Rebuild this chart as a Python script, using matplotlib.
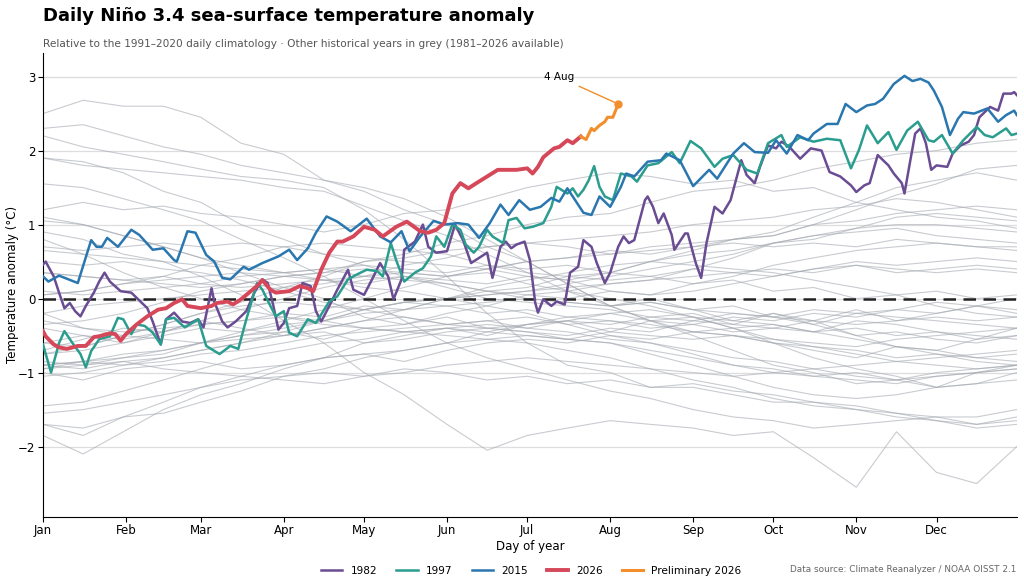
import matplotlib
matplotlib.use("Agg")
import matplotlib.pyplot as plt

# --- highlighted years: (day of year, anomaly in °C) ---
days_1982 = [1, 2, 5, 7, 9, 11, 13, 15, 17, 20, 22, 24, 26, 30, 34, 36, 40, 42, 45, 47, 50, 53, 56, 59, 61, 64,
             65, 68, 70, 73, 77, 80, 83, 85, 87, 89, 91, 93, 96, 98, 101, 103, 105, 108, 111, 115, 117, 121, 124,
             127, 130, 132, 135, 136, 140, 143, 145, 148, 152, 155, 158, 161, 164, 167, 169, 172, 174, 176, 178,
             181, 183, 185, 186, 188, 191, 193, 196, 198, 201, 203, 206, 208, 211, 213, 216, 218, 220, 222, 226,
             227, 229, 231, 233, 236, 237, 241, 242, 245, 247, 249, 252, 255, 258, 262, 264, 267, 269, 272, 275,
             277, 280, 284, 288, 292, 295, 299, 303, 305, 308, 310, 313, 317, 319, 322, 323, 325, 327, 329, 331,
             333, 335, 339, 341, 344, 347, 349, 351, 355, 358, 360, 363, 364, 365]
vals_1982 = [0.46, 0.50, 0.30, 0.08, -0.13, -0.06, -0.17, -0.24, -0.10, 0.08, 0.23, 0.35, 0.23, 0.10, 0.08, 0.01,
             -0.13, -0.31, -0.62, -0.28, -0.19, -0.31, -0.33, -0.28, -0.39, 0.14, -0.04, -0.31, -0.39, -0.31,
             -0.17, 0.08, 0.26, 0.21, -0.08, -0.42, -0.33, -0.13, -0.10, 0.21, 0.17, -0.17, -0.31, -0.10, 0.12,
             0.39, 0.12, 0.05, 0.26, 0.48, 0.30, -0.01, 0.26, 0.66, 0.77, 1.00, 0.70, 0.62, 0.64, 1.00, 0.79,
             0.48, 0.55, 0.62, 0.28, 0.70, 0.77, 0.68, 0.73, 0.77, 0.52, -0.06, -0.19, -0.01, -0.10, -0.04, -0.08,
             0.35, 0.43, 0.79, 0.70, 0.48, 0.21, 0.35, 0.70, 0.84, 0.75, 0.79, 1.33, 1.38, 1.24, 1.02, 1.15,
             0.86, 0.66, 0.88, 0.88, 0.48, 0.28, 0.75, 1.24, 1.15, 1.33, 1.87, 1.67, 1.56, 1.78, 2.07, 2.03,
             2.12, 2.05, 1.89, 2.03, 2.00, 1.71, 1.65, 1.53, 1.44, 1.53, 1.56, 1.94, 1.80, 1.69, 1.56, 1.42,
             1.83, 2.23, 2.30, 2.10, 1.74, 1.80, 1.78, 1.96, 2.07, 2.12, 2.21, 2.45, 2.59, 2.54, 2.77, 2.77,
             2.79, 2.75]

days_1997 = [1, 4, 7, 9, 12, 15, 17, 19, 22, 26, 29, 31, 34, 36, 39, 42, 45, 47, 50, 54, 59, 62, 67, 71, 74, 77,
             81, 83, 86, 88, 91, 93, 96, 100, 103, 108, 111, 115, 118, 122, 126, 128, 131, 133, 136, 140, 143,
             146, 148, 151, 154, 157, 159, 162, 164, 167, 169, 173, 175, 178, 181, 184, 188, 191, 193, 197, 199,
             201, 203, 205, 207, 209, 211, 214, 217, 221, 223, 227, 231, 236, 239, 243, 247, 252, 255, 259, 264,
             268, 272, 277, 279, 284, 289, 294, 299, 303, 306, 309, 313, 317, 320, 324, 328, 332, 334, 337, 341,
             345, 350, 353, 356, 361, 363, 365]
vals_1997 = [-0.62, -1.00, -0.60, -0.44, -0.60, -0.75, -0.93, -0.71, -0.55, -0.51, -0.26, -0.28, -0.48, -0.35,
             -0.37, -0.46, -0.62, -0.28, -0.26, -0.39, -0.28, -0.64, -0.75, -0.64, -0.68, -0.28, 0.21, 0.12,
             -0.10, -0.24, -0.17, -0.46, -0.51, -0.28, -0.33, -0.04, 0.03, 0.26, 0.32, 0.39, 0.37, 0.30, 0.75,
             0.52, 0.23, 0.35, 0.41, 0.57, 0.84, 0.70, 1.00, 0.93, 0.73, 0.62, 0.70, 0.93, 0.84, 0.75, 1.06,
             1.09, 0.95, 0.97, 1.02, 1.24, 1.51, 1.42, 1.49, 1.38, 1.47, 1.60, 1.79, 1.51, 1.38, 1.33, 1.69,
             1.65, 1.58, 1.80, 1.83, 1.98, 1.83, 2.13, 2.03, 1.78, 1.89, 1.94, 1.74, 1.69, 2.10, 2.21, 2.05,
             2.18, 2.12, 2.16, 2.14, 1.76, 2.01, 2.34, 2.10, 2.25, 2.01, 2.27, 2.39, 2.14, 2.12, 2.21, 1.96,
             2.14, 2.32, 2.21, 2.18, 2.30, 2.21, 2.23]

days_2015 = [1, 3, 7, 14, 19, 21, 23, 25, 29, 34, 37, 42, 46, 50, 51, 55, 58, 62, 65, 68, 71, 76, 78, 83, 89, 93,
             96, 100, 103, 107, 111, 116, 122, 127, 131, 135, 138, 142, 147, 151, 156, 160, 164, 168, 172, 175,
             179, 183, 187, 191, 194, 197, 199, 203, 206, 209, 213, 217, 219, 222, 227, 232, 234, 239, 244, 250,
             253, 259, 263, 267, 272, 275, 279, 283, 287, 289, 294, 298, 301, 305, 309, 312, 315, 319, 323, 326,
             329, 332, 334, 337, 340, 343, 345, 349, 354, 358, 361, 364, 365]
vals_2015 = [0.30, 0.23, 0.31, 0.21, 0.79, 0.70, 0.70, 0.82, 0.70, 0.93, 0.86, 0.66, 0.68, 0.52, 0.50, 0.91, 0.89,
             0.59, 0.50, 0.28, 0.26, 0.43, 0.39, 0.48, 0.57, 0.66, 0.52, 0.68, 0.89, 1.11, 1.04, 0.91, 1.08,
             0.84, 0.76, 0.91, 0.64, 0.84, 1.05, 1.00, 1.02, 1.00, 0.82, 1.02, 1.27, 1.13, 1.33, 1.20, 1.24,
             1.36, 1.31, 1.49, 1.38, 1.16, 1.13, 1.38, 1.24, 1.51, 1.69, 1.65, 1.85, 1.87, 1.96, 1.87, 1.52,
             1.74, 1.62, 1.96, 2.10, 1.98, 1.97, 2.14, 1.96, 2.21, 2.14, 2.23, 2.36, 2.36, 2.63, 2.52, 2.61,
             2.63, 2.70, 2.90, 3.01, 2.94, 2.97, 2.92, 2.81, 2.59, 2.21, 2.43, 2.52, 2.50, 2.57, 2.39, 2.48,
             2.54, 2.48]

days_2026 = [1, 2, 5, 7, 10, 14, 17, 20, 22, 26, 28, 30, 32, 36, 40, 44, 47, 50, 53, 55, 60, 64, 66, 70, 72, 75,
             78, 81, 83, 86, 88, 93, 97, 100, 102, 105, 108, 111, 113, 117, 121, 125, 128, 133, 137, 142, 145,
             148, 151, 154, 157, 160, 163, 167, 171, 174, 178, 182, 184, 186, 188, 192, 194, 197, 199, 202]
vals_2026 = [-0.44, -0.51, -0.62, -0.66, -0.68, -0.64, -0.64, -0.52, -0.51, -0.47, -0.48, -0.57, -0.48, -0.35,
             -0.24, -0.15, -0.13, -0.06, -0.01, -0.10, -0.13, -0.10, -0.06, -0.04, -0.08, -0.01, 0.08, 0.17,
             0.25, 0.12, 0.08, 0.10, 0.17, 0.14, 0.10, 0.39, 0.62, 0.77, 0.77, 0.84, 0.97, 0.93, 0.84, 0.97,
             1.04, 0.91, 0.89, 0.93, 1.02, 1.42, 1.56, 1.49, 1.56, 1.65, 1.74, 1.74, 1.74, 1.76, 1.69, 1.78,
             1.91, 2.03, 2.05, 2.14, 2.10, 2.19]

days_prelim = [202, 204, 206, 207, 209, 211, 212, 214, 215, 216]
vals_prelim = [2.19, 2.15, 2.30, 2.27, 2.34, 2.39, 2.45, 2.45, 2.54, 2.63]

# --- other historical years in grey, values every half month ---
grey_days = [1, 16, 31, 46, 60, 75, 91, 106, 121, 136, 152, 167, 182, 197, 213, 228, 244, 259, 274, 289, 305,
             320, 335, 350, 365]
grey_years = {
    1981: [-0.2, -0.4, -0.5, -0.55, -0.6, -0.5, -0.45, -0.55, -0.4, -0.35, -0.25, -0.4, -0.45, -0.5, -0.4, -0.45, -0.3, -0.35, -0.2, -0.3, -0.15, -0.3, -0.2, -0.1, -0.2],
    1983: [2.3, 2.35, 2.2, 2.05, 1.95, 1.8, 1.7, 1.6, 1.5, 1.35, 1.1, 0.8, 0.5, 0.2, -0.1, -0.3, -0.5, -0.7, -0.9, -1.0, -1.15, -1.1, -1.2, -1.0, -0.9],
    1984: [-0.7, -0.55, -0.4, -0.45, -0.3, -0.4, -0.5, -0.45, -0.6, -0.5, -0.4, -0.5, -0.35, -0.3, -0.2, -0.3, -0.25, -0.4, -0.6, -0.8, -0.95, -1.05, -1.2, -1.15, -1.0],
    1985: [-1.0, -1.1, -0.95, -0.9, -0.85, -0.95, -0.9, -0.8, -0.75, -0.85, -0.7, -0.6, -0.55, -0.6, -0.5, -0.55, -0.45, -0.4, -0.35, -0.45, -0.3, -0.35, -0.45, -0.5, -0.55],
    1986: [-0.6, -0.5, -0.6, -0.45, -0.35, -0.3, -0.2, -0.25, -0.1, -0.15, 0.0, 0.1, 0.15, 0.3, 0.35, 0.5, 0.65, 0.8, 0.85, 1.0, 1.05, 1.15, 1.2, 1.25, 1.2],
    1987: [1.2, 1.3, 1.2, 1.25, 1.15, 1.1, 1.0, 0.9, 1.0, 1.15, 1.2, 1.35, 1.5, 1.6, 1.7, 1.65, 1.55, 1.6, 1.45, 1.5, 1.3, 1.2, 1.1, 1.05, 0.95],
    1988: [0.9, 0.8, 0.6, 0.5, 0.3, 0.05, -0.3, -0.6, -1.0, -1.3, -1.7, -2.05, -1.85, -1.75, -1.65, -1.7, -1.75, -1.85, -1.8, -2.15, -2.55, -1.8, -2.35, -2.5, -2.0],
    1989: [-1.85, -2.1, -1.8, -1.5, -1.3, -1.15, -0.95, -0.8, -0.6, -0.55, -0.45, -0.4, -0.35, -0.3, -0.45, -0.3, -0.35, -0.25, -0.3, -0.2, -0.25, -0.15, -0.2, -0.1, -0.15],
    1990: [0.05, 0.1, 0.2, 0.25, 0.3, 0.35, 0.3, 0.25, 0.2, 0.3, 0.25, 0.2, 0.3, 0.25, 0.35, 0.3, 0.4, 0.35, 0.3, 0.4, 0.45, 0.35, 0.4, 0.45, 0.4],
    1991: [0.35, 0.3, 0.25, 0.2, 0.15, 0.2, 0.3, 0.35, 0.5, 0.55, 0.65, 0.7, 0.75, 0.7, 0.6, 0.65, 0.7, 0.8, 0.85, 1.0, 1.2, 1.4, 1.55, 1.75, 1.8],
    1992: [1.9, 1.8, 1.75, 1.7, 1.65, 1.6, 1.5, 1.45, 1.25, 1.05, 0.85, 0.6, 0.35, 0.1, -0.1, -0.05, -0.15, -0.3, -0.2, -0.35, -0.2, -0.15, -0.05, -0.1, 0.0],
    1993: [0.05, 0.1, 0.2, 0.3, 0.45, 0.55, 0.7, 0.75, 0.7, 0.65, 0.6, 0.45, 0.35, 0.3, 0.25, 0.3, 0.2, 0.25, 0.1, 0.15, 0.0, 0.05, 0.1, 0.0, 0.05],
    1994: [0.1, 0.05, 0.1, 0.15, 0.2, 0.3, 0.35, 0.4, 0.45, 0.4, 0.35, 0.45, 0.4, 0.45, 0.35, 0.5, 0.6, 0.65, 0.75, 0.8, 0.95, 1.1, 1.15, 1.1, 1.05],
    1995: [1.05, 1.0, 0.85, 0.7, 0.55, 0.45, 0.35, 0.25, 0.15, 0.1, 0.0, -0.1, -0.2, -0.35, -0.5, -0.6, -0.75, -0.9, -0.95, -1.05, -1.0, -1.1, -1.0, -0.95, -0.9],
    1996: [-0.9, -0.95, -0.85, -0.8, -0.7, -0.6, -0.5, -0.4, -0.3, -0.25, -0.35, -0.3, -0.25, -0.35, -0.3, -0.4, -0.35, -0.45, -0.4, -0.45, -0.4, -0.5, -0.45, -0.55, -0.5],
    1998: [2.2, 2.05, 1.95, 1.85, 1.75, 1.65, 1.6, 1.5, 1.2, 0.8, 0.3, -0.2, -0.6, -0.9, -1.0, -1.2, -1.2, -1.3, -1.4, -1.4, -1.5, -1.55, -1.6, -1.7, -1.6],
    1999: [-1.55, -1.5, -1.4, -1.3, -1.2, -1.1, -1.05, -1.0, -1.05, -0.95, -1.0, -1.1, -1.05, -1.15, -1.1, -1.2, -1.15, -1.25, -1.3, -1.4, -1.45, -1.55, -1.65, -1.75, -1.7],
    2000: [-1.7, -1.85, -1.6, -1.4, -1.2, -1.05, -0.9, -0.8, -0.75, -0.7, -0.6, -0.55, -0.5, -0.55, -0.45, -0.5, -0.55, -0.5, -0.6, -0.65, -0.7, -0.8, -0.75, -0.8, -0.75],
    2001: [-0.75, -0.7, -0.6, -0.5, -0.4, -0.45, -0.35, -0.3, -0.2, -0.15, -0.1, -0.05, 0.0, -0.05, -0.1, 0.0, -0.15, -0.2, -0.25, -0.3, -0.35, -0.3, -0.25, -0.3, -0.25],
    2002: [-0.2, -0.1, -0.05, 0.0, 0.05, 0.1, 0.15, 0.2, 0.3, 0.45, 0.55, 0.7, 0.75, 0.8, 0.85, 0.9, 1.0, 1.05, 1.1, 1.2, 1.25, 1.35, 1.3, 1.2, 1.1],
    2003: [1.1, 1.0, 0.85, 0.7, 0.55, 0.35, 0.15, 0.0, -0.25, -0.35, -0.2, -0.1, 0.05, 0.1, 0.2, 0.25, 0.3, 0.35, 0.4, 0.35, 0.45, 0.4, 0.35, 0.4, 0.35],
    2004: [0.35, 0.3, 0.25, 0.3, 0.2, 0.15, 0.2, 0.25, 0.3, 0.35, 0.3, 0.4, 0.5, 0.55, 0.65, 0.6, 0.7, 0.75, 0.7, 0.75, 0.7, 0.8, 0.75, 0.7, 0.7],
    2005: [0.65, 0.6, 0.55, 0.5, 0.45, 0.4, 0.35, 0.4, 0.3, 0.25, 0.2, 0.1, 0.0, -0.05, -0.1, -0.05, -0.15, -0.1, -0.25, -0.35, -0.5, -0.65, -0.75, -0.85, -0.9],
    2006: [-0.9, -0.85, -0.8, -0.7, -0.6, -0.5, -0.4, -0.3, -0.15, -0.05, 0.0, 0.05, 0.1, 0.2, 0.3, 0.4, 0.5, 0.6, 0.75, 0.85, 0.95, 1.0, 1.0, 0.95, 0.9],
    2007: [0.8, 0.6, 0.35, 0.15, 0.0, -0.15, -0.25, -0.3, -0.4, -0.45, -0.5, -0.55, -0.6, -0.7, -0.8, -0.95, -1.1, -1.2, -1.35, -1.45, -1.5, -1.6, -1.65, -1.7, -1.65],
    2008: [-1.7, -1.75, -1.6, -1.55, -1.4, -1.25, -1.05, -0.95, -0.8, -0.7, -0.6, -0.45, -0.35, -0.25, -0.2, -0.15, -0.25, -0.3, -0.35, -0.45, -0.55, -0.65, -0.7, -0.8, -0.85],
    2009: [-0.85, -0.9, -0.8, -0.75, -0.6, -0.45, -0.3, -0.15, 0.0, 0.15, 0.3, 0.4, 0.5, 0.55, 0.6, 0.7, 0.75, 0.8, 0.9, 1.1, 1.3, 1.5, 1.6, 1.7, 1.6],
    2010: [1.55, 1.5, 1.35, 1.2, 1.05, 0.8, 0.55, 0.3, 0.0, -0.3, -0.6, -0.8, -0.95, -1.1, -1.25, -1.35, -1.5, -1.6, -1.65, -1.75, -1.7, -1.65, -1.6, -1.6, -1.5],
    2011: [-1.45, -1.4, -1.25, -1.1, -0.95, -0.8, -0.7, -0.6, -0.55, -0.45, -0.4, -0.45, -0.5, -0.55, -0.6, -0.7, -0.8, -0.9, -1.0, -1.05, -1.1, -1.15, -1.05, -1.0, -0.95],
    2012: [-0.95, -0.85, -0.75, -0.7, -0.6, -0.55, -0.5, -0.4, -0.3, -0.15, 0.0, 0.15, 0.25, 0.35, 0.45, 0.5, 0.45, 0.4, 0.35, 0.25, 0.15, 0.05, -0.1, -0.2, -0.25],
    2013: [-0.3, -0.4, -0.45, -0.4, -0.35, -0.3, -0.25, -0.35, -0.4, -0.45, -0.4, -0.35, -0.4, -0.3, -0.35, -0.25, -0.3, -0.2, -0.25, -0.15, -0.2, -0.25, -0.3, -0.35, -0.4],
    2014: [-0.4, -0.5, -0.55, -0.45, -0.3, -0.15, 0.0, 0.15, 0.25, 0.3, 0.2, 0.1, 0.05, 0.0, 0.1, 0.05, 0.2, 0.3, 0.45, 0.55, 0.65, 0.7, 0.75, 0.7, 0.65],
    2016: [2.5, 2.68, 2.6, 2.6, 2.45, 2.1, 1.95, 1.6, 1.45, 1.2, 1.0, 0.7, 0.5, 0.2, -0.1, -0.3, -0.45, -0.5, -0.6, -0.7, -0.8, -0.65, -0.7, -0.55, -0.4],
    2017: [-0.35, -0.3, -0.2, -0.05, 0.1, 0.2, 0.3, 0.35, 0.4, 0.35, 0.3, 0.35, 0.2, 0.1, 0.0, -0.1, -0.25, -0.4, -0.55, -0.65, -0.75, -0.85, -0.9, -0.95, -0.9],
    2018: [-0.9, -0.85, -0.9, -0.8, -0.7, -0.6, -0.45, -0.3, -0.15, -0.05, 0.0, 0.05, 0.1, 0.15, 0.2, 0.25, 0.4, 0.55, 0.75, 0.85, 0.9, 0.95, 0.85, 0.8, 0.75],
    2019: [0.7, 0.65, 0.7, 0.75, 0.7, 0.75, 0.7, 0.6, 0.55, 0.5, 0.45, 0.4, 0.3, 0.25, 0.1, 0.05, 0.1, 0.2, 0.3, 0.4, 0.5, 0.45, 0.5, 0.55, 0.5],
    2020: [0.5, 0.45, 0.5, 0.4, 0.35, 0.25, 0.1, -0.05, -0.15, -0.25, -0.35, -0.4, -0.45, -0.55, -0.6, -0.75, -0.9, -1.05, -1.2, -1.3, -1.35, -1.3, -1.2, -1.15, -1.1],
    2021: [-1.05, -1.0, -0.9, -0.85, -0.75, -0.7, -0.6, -0.5, -0.45, -0.4, -0.35, -0.3, -0.4, -0.45, -0.55, -0.6, -0.7, -0.8, -0.85, -0.95, -1.05, -1.1, -1.05, -1.0, -0.95],
    2022: [-0.95, -0.9, -0.85, -0.95, -1.0, -1.05, -1.1, -1.15, -1.05, -1.0, -0.9, -0.85, -0.8, -0.85, -0.9, -0.95, -1.0, -1.05, -1.0, -0.95, -0.9, -0.85, -0.8, -0.75, -0.7],
    2023: [-0.75, -0.65, -0.5, -0.35, -0.2, -0.05, 0.15, 0.3, 0.5, 0.6, 0.75, 0.85, 1.0, 1.1, 1.15, 1.3, 1.45, 1.5, 1.6, 1.75, 1.85, 1.95, 2.0, 2.1, 2.15],
    2024: [1.9, 1.85, 1.7, 1.45, 1.3, 1.0, 0.8, 0.6, 0.45, 0.3, 0.15, 0.0, -0.05, -0.1, -0.15, -0.25, -0.2, -0.35, -0.4, -0.3, -0.5, -0.45, -0.55, -0.6, -0.5],
    2025: [-0.6, -0.65, -0.5, -0.35, -0.2, -0.1, -0.05, -0.1, -0.15, -0.05, -0.1, -0.2, -0.15, -0.25, -0.3, -0.35, -0.45, -0.5, -0.55, -0.6, -0.65, -0.55, -0.5, -0.45, -0.4],
}

month_starts = [1, 32, 60, 91, 121, 152, 182, 213, 244, 274, 305, 335]
month_labels = ['Jan', 'Feb', 'Mar', 'Apr', 'May', 'Jun', 'Jul', 'Aug', 'Sep', 'Oct', 'Nov', 'Dec']

fig = plt.figure(figsize=(10.24, 5.88), dpi=100)
ax = fig.add_axes([0.042, 0.121, 0.951, 0.789])

for yr, v in grey_years.items():
    ax.plot(grey_days, v, color='#a4a9b1', lw=0.8, alpha=0.6, zorder=1)

ax.axhline(0, color='#222222', lw=1.8, ls=(0, (5, 3)), zorder=2)

ax.plot(days_1982, vals_1982, color='#6a4c93', lw=1.8, label='1982', zorder=3)
ax.plot(days_1997, vals_1997, color='#2a9d8f', lw=1.8, label='1997', zorder=3)
ax.plot(days_2015, vals_2015, color='#2a77b0', lw=1.8, label='2015', zorder=3)
ax.plot(days_2026, vals_2026, color='#d6475a', lw=2.8, label='2026', zorder=4)
ax.plot(days_prelim, vals_prelim, color='#f28e2b', lw=2.2, label='Preliminary 2026', zorder=4)
ax.plot(days_prelim[-1], vals_prelim[-1], 'o', color='#f28e2b', ms=5, zorder=5)

ax.annotate('4 Aug', xy=(days_prelim[-1], vals_prelim[-1]), xytext=(194, 2.99),
            fontsize=7.5, ha='center', va='center',
            arrowprops=dict(arrowstyle='-', color='#f28e2b', lw=1))

ax.set_xlim(1, 365)
ax.set_ylim(-2.95, 3.32)
ax.set_xticks(month_starts)
ax.set_xticklabels(month_labels)
ax.set_yticks([-2, -1, 0, 1, 2, 3])
ax.tick_params(labelsize=8.5, pad=2)
ax.grid(axis='y', color='#dddddd', lw=0.9)
ax.set_axisbelow(True)
for s in ['top', 'right']:
    ax.spines[s].set_visible(False)
ax.set_xlabel('Day of year', fontsize=8.5, labelpad=2)
ax.set_ylabel('Temperature anomaly (°C)', fontsize=8.5)
ax.yaxis.set_label_coords(-0.025, 0.5)

fig.text(0.042, 0.973, 'Daily Niño 3.4 sea-surface temperature anomaly', fontsize=13,
         fontweight='bold', va='center')
fig.text(0.042, 0.926, 'Relative to the 1991–2020 daily climatology · Other historical years in grey (1981–2026 available)',
         fontsize=7.6, color='#555555', va='center')
fig.text(0.993, 0.032, 'Data source: Climate Reanalyzer / NOAA OISST 2.1', fontsize=6.4,
         color='#666666', ha='right', va='center')

fig.legend(loc='center', bbox_to_anchor=(0.519, 0.029), ncol=5, frameon=False, fontsize=7.6,
           handlelength=2.0, columnspacing=1.8)

fig.savefig('out.png', dpi=100)
